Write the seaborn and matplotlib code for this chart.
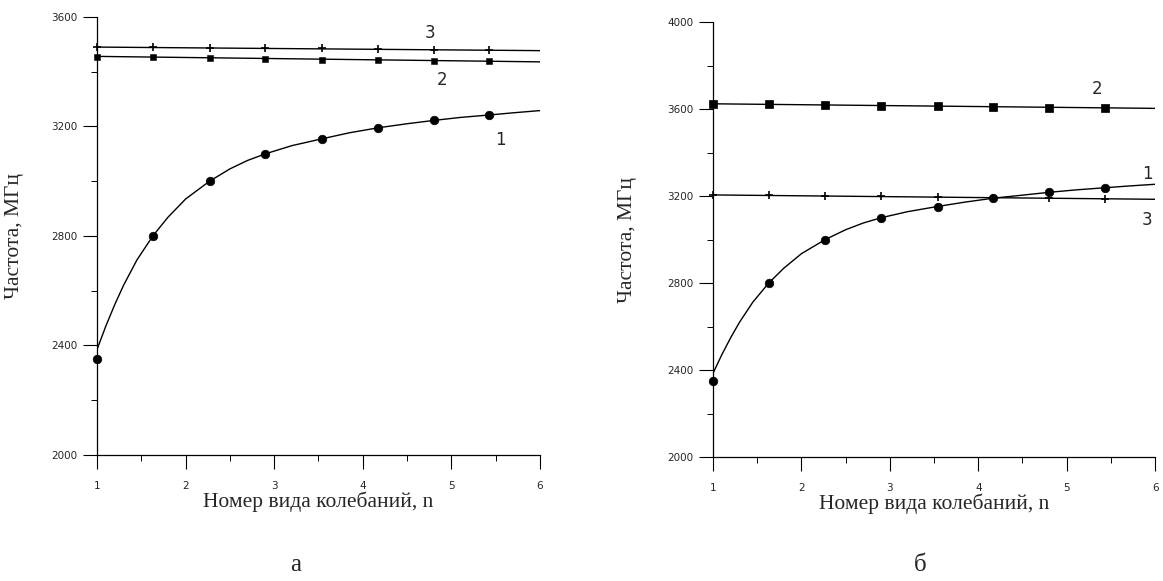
import matplotlib
matplotlib.use("Agg")
import matplotlib.pyplot as plt
import seaborn as sns
from matplotlib.ticker import MultipleLocator

# номер вида колебаний (положения точек)
n_points = [1.0, 1.63, 2.27, 2.9, 3.54, 4.17, 4.8, 5.43]

# ----- панель а -----
freq1_a = [2350, 2800, 3000, 3100, 3155, 3195, 3222, 3242]
freq2_a = [3455, 3455, 3451, 3447, 3444, 3442, 3440, 3438]
freq3_a = [3490, 3490, 3488, 3487, 3485, 3483, 3481, 3480]

# ----- панель б -----
freq1_b = [2350, 2800, 3000, 3100, 3150, 3190, 3218, 3238]
freq2_b = [3623, 3622, 3619, 3616, 3614, 3610, 3606, 3604]
freq3_b = [3205, 3204, 3201, 3198, 3195, 3192, 3189, 3187]

# аппроксимирующая кривая 1
fit_n = [1.0, 1.1, 1.2, 1.3, 1.45, 1.63, 1.8, 2.0, 2.27, 2.5, 2.7, 2.9,
         3.2, 3.54, 3.85, 4.17, 4.5, 4.8, 5.1, 5.43, 5.7, 6.0]
fit1_a = [2385, 2471, 2549, 2620, 2712, 2800, 2868, 2935, 3000, 3045, 3076, 3100,
          3130, 3155, 3177, 3195, 3210, 3222, 3233, 3242, 3250, 3258]
fit1_b = [2385, 2471, 2549, 2620, 2712, 2800, 2868, 2935, 3000, 3045, 3076, 3100,
          3128, 3152, 3172, 3190, 3204, 3217, 3228, 3238, 3246, 3254]

# прямые 2 и 3
line_n = [1.0, 6.0]
fit2_a = [3456, 3436]
fit3_a = [3490, 3477]
fit2_b = [3624, 3603]
fit3_b = [3205, 3185]

# подписи кривых: (текст, n, частота)
labels_a = [("3", 4.76, 3540), ("2", 4.9, 3368), ("1", 5.55, 3150)]
labels_b = [("2", 5.34, 3690), ("1", 5.91, 3300), ("3", 5.91, 3090)]


def draw_panel(ax, f1, f2, f3, fit1, fit2, fit3, labels, ylim, sq_size):
    sns.lineplot(x=fit_n, y=fit1, ax=ax, color="black", lw=1.0)
    sns.lineplot(x=line_n, y=fit2, ax=ax, color="black", lw=1.0)
    sns.lineplot(x=line_n, y=fit3, ax=ax, color="black", lw=1.0)

    sns.scatterplot(x=n_points, y=f1, ax=ax, color="black", marker="o",
                    s=38, edgecolor="black", clip_on=False, zorder=3)
    sns.scatterplot(x=n_points, y=f2, ax=ax, color="black", marker="s",
                    s=sq_size, edgecolor="black", clip_on=False, zorder=3)
    sns.scatterplot(x=n_points, y=f3, ax=ax, color="black", marker="+",
                    s=40, linewidth=1.2, clip_on=False, zorder=3)

    for txt, xx, yy in labels:
        ax.text(xx, yy, txt, fontsize=12, ha="center", va="center",
                family="DejaVu Sans")

    ax.set_xlim(1, 6)
    ax.set_ylim(*ylim)
    ax.xaxis.set_major_locator(MultipleLocator(1))
    ax.xaxis.set_minor_locator(MultipleLocator(0.5))
    ax.yaxis.set_major_locator(MultipleLocator(400))
    ax.yaxis.set_minor_locator(MultipleLocator(200))
    ax.tick_params(axis="both", which="major", direction="out", length=10,
                   width=0.8, labelsize=7.5, color="black")
    ax.tick_params(axis="both", which="minor", direction="out", length=4,
                   width=0.7, color="black")
    ax.tick_params(axis="y", which="major", pad=4)
    ax.tick_params(axis="x", which="major", pad=9)
    for sp in ["top", "right"]:
        ax.spines[sp].set_visible(False)
    for sp in ["left", "bottom"]:
        ax.spines[sp].set_linewidth(0.9)
        ax.spines[sp].set_color("black")

    ax.set_xlabel("Номер вида колебаний, n", family="Liberation Serif",
                  fontsize=15.5, labelpad=0)
    ax.set_ylabel("Частота, МГц", family="Liberation Serif", fontsize=15.5)
    ax.grid(False)


def main():
    sns.set_style("ticks")
    plt.rcParams["font.family"] = ["DejaVu Sans"]

    fig = plt.figure(figsize=(11.63, 5.81), dpi=100)
    ax1 = fig.add_axes([0.0834, 0.2169, 0.3809, 0.7539])
    ax2 = fig.add_axes([0.6131, 0.2134, 0.3801, 0.7487])

    draw_panel(ax1, freq1_a, freq2_a, freq3_a, fit1_a, fit2_a, fit3_a,
               labels_a, (2000, 3600), 22)
    draw_panel(ax2, freq1_b, freq2_b, freq3_b, fit1_b, fit2_b, fit3_b,
               labels_b, (2000, 4000), 40)

    ax1.yaxis.set_label_coords(-0.165, 0.5)
    ax2.yaxis.set_label_coords(-0.172, 0.5)

    fig.text(0.254, 0.028, "а", family="Liberation Serif", fontsize=18,
             ha="center", va="center")
    fig.text(0.791, 0.028, "б", family="Liberation Serif", fontsize=18,
             ha="center", va="center")

    fig.savefig("out.png", dpi=100)


if __name__ == "__main__":
    main()
